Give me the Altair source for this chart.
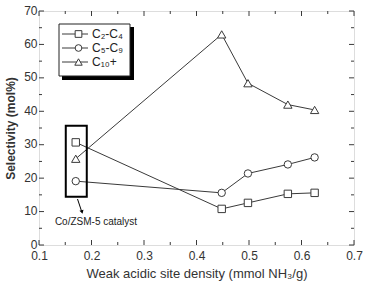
import altair as alt
import pandas as pd

density = [0.17, 0.448, 0.498, 0.574, 0.625]
c2c4 = [30.7, 10.8, 12.6, 15.3, 15.6]
c5c9 = [19.1, 15.6, 21.4, 24.1, 26.2]
c10p = [25.8, 63.0, 48.4, 42.0, 40.4]
series_names = ["C₂-C₄", "C₅-C₉", "C₁₀+"]
series_shapes = ["square", "circle", "triangle-up"]

x_major = [0.1, 0.2, 0.3, 0.4, 0.5, 0.6, 0.7]
x_minor = [0.15, 0.25, 0.35, 0.45, 0.55, 0.65]
y_major = [0, 10, 20, 30, 40, 50, 60, 70]
y_minor = [5, 15, 25, 35, 45, 55, 65]

box_x = [0.151]
box_x2 = [0.191]
box_y = [14.4]
box_y2 = [35.7]
note = ["Co/ZSM-5 catalyst"]

W, H = 315, 234
LINE = "#3a3a3a"
FONT = "Liberation Sans"

rows = []
for name, vals in zip(series_names, [c2c4, c5c9, c10p]):
    for d, v in zip(density, vals):
        rows.append({"series": name, "x": d, "y": v})
df = pd.DataFrame(rows)

xs = alt.Scale(domain=[0.1, 0.7], nice=False)
ys = alt.Scale(domain=[0, 70], nice=False)

x_axis = alt.Axis(
    values=x_major, format=".1f", ticks=False, domain=False, grid=False,
    labelOverlap=False, labelFlush=False,
    labelFontSize=12, labelColor="#333", labelFont=FONT, labelPadding=5,
    title="Weak acidic site density (mmol NH₃/g)", titleFont=FONT,
    titleFontSize=13, titleFontWeight="normal", titleColor="#333", titlePadding=6)
y_axis = alt.Axis(
    values=y_major, ticks=False, domain=False, grid=False,
    labelOverlap=False, labelFlush=False, labelOffset=-1,
    labelFontSize=12, labelColor="#333", labelFont=FONT, labelPadding=2,
    title="Selectivity (mol%)", titleFont=FONT, titleFontSize=12,
    titleFontWeight="bold", titleColor="#333", titlePadding=6)

X = alt.X("x:Q", scale=xs, axis=x_axis)
Y = alt.Y("y:Q", scale=ys, axis=y_axis)

layers = []
for name, shape in zip(series_names, series_shapes):
    sub = df[df.series == name]
    layers.append(alt.Chart(sub).mark_line(color=LINE, strokeWidth=1).encode(
        x=X, y=Y, order="x:Q"))
    layers.append(alt.Chart(sub).mark_point(
        shape=shape, filled=True, fill="white", stroke=LINE, strokeWidth=1,
        size=55 if shape != "triangle-up" else 70, opacity=1).encode(x=X, y=Y))

# inward ticks
def xticks(vals, length):
    d = pd.DataFrame({"x": vals})
    bottom = alt.Chart(d).mark_rule(color=LINE, strokeWidth=1).encode(
        x=X, y=alt.value(H), y2=alt.value(H - length))
    top = alt.Chart(d).mark_rule(color=LINE, strokeWidth=1).encode(
        x=X, y=alt.value(0), y2=alt.value(length))
    return [bottom, top]

def yticks(vals, length):
    d = pd.DataFrame({"y": vals})
    left = alt.Chart(d).mark_rule(color=LINE, strokeWidth=1).encode(
        y=Y, x=alt.value(0), x2=alt.value(length))
    right = alt.Chart(d).mark_rule(color=LINE, strokeWidth=1).encode(
        y=Y, x=alt.value(W), x2=alt.value(W - length))
    return [left, right]

tick_layers = xticks(x_major, 5) + xticks(x_minor, 3) + yticks(y_major, 5) + yticks(y_minor, 3)

# annotation box
bd = pd.DataFrame({"x": box_x, "x2": box_x2, "y": box_y, "y2": box_y2})
box = alt.Chart(bd).mark_rect(fill=None, stroke="black", strokeWidth=2).encode(
    x=X, x2="x2:Q", y=Y, y2="y2:Q")

nd = pd.DataFrame({"t": note})
arrow_line = alt.Chart(nd).mark_rule(color="black", strokeWidth=1).encode(
    x=alt.value(38.5), y=alt.value(188), x2=alt.value(42.5), y2=alt.value(200))
arrow_head = alt.Chart(nd).mark_point(shape="triangle-down", filled=True, color="black",
                                      size=18, angle=344, opacity=1).encode(
    x=alt.value(43), y=alt.value(201))
note_text = alt.Chart(nd).mark_text(font=FONT, fontSize=10, color="#222", align="center",
                                    baseline="middle").encode(
    text="t:N", x=alt.value(57), y=alt.value(211))

# legend
legend_layers = []
lg = pd.DataFrame({"a": [0]})
legend_layers.append(alt.Chart(lg).mark_rect(fill="black").encode(
    x=alt.value(23), x2=alt.value(95), y=alt.value(16), y2=alt.value(69)))
legend_layers.append(alt.Chart(lg).mark_rect(fill="white", stroke="#222", strokeWidth=1).encode(
    x=alt.value(20), x2=alt.value(91), y=alt.value(13), y2=alt.value(65)))
for i, (name, shape) in enumerate(zip(series_names, series_shapes)):
    yy = 23 + 14 * i
    ld = pd.DataFrame({"t": [name]})
    legend_layers.append(alt.Chart(ld).mark_rule(color=LINE, strokeWidth=1).encode(
        x=alt.value(23), x2=alt.value(49), y=alt.value(yy)))
    legend_layers.append(alt.Chart(ld).mark_point(
        shape=shape, filled=True, fill="white", stroke=LINE, strokeWidth=1,
        size=45 if shape != "triangle-up" else 55, opacity=1).encode(
        x=alt.value(39.5), y=alt.value(yy)))
    legend_layers.append(alt.Chart(ld).mark_text(
        font=FONT, fontSize=12, color="#222", align="left", baseline="middle").encode(
        text="t:N", x=alt.value(53), y=alt.value(yy)))

chart = alt.layer(*(layers + tick_layers + [box, arrow_line, arrow_head, note_text] + legend_layers)).properties(
    width=W, height=H,
    autosize=alt.AutoSizeParams(type="none"),
    padding={"left": 39, "top": 11, "right": 11, "bottom": 40},
).configure_view(stroke="#222", strokeWidth=1.2).configure(background="white")

chart.save("out.html", embed_options={"renderer": "svg", "actions": False})
